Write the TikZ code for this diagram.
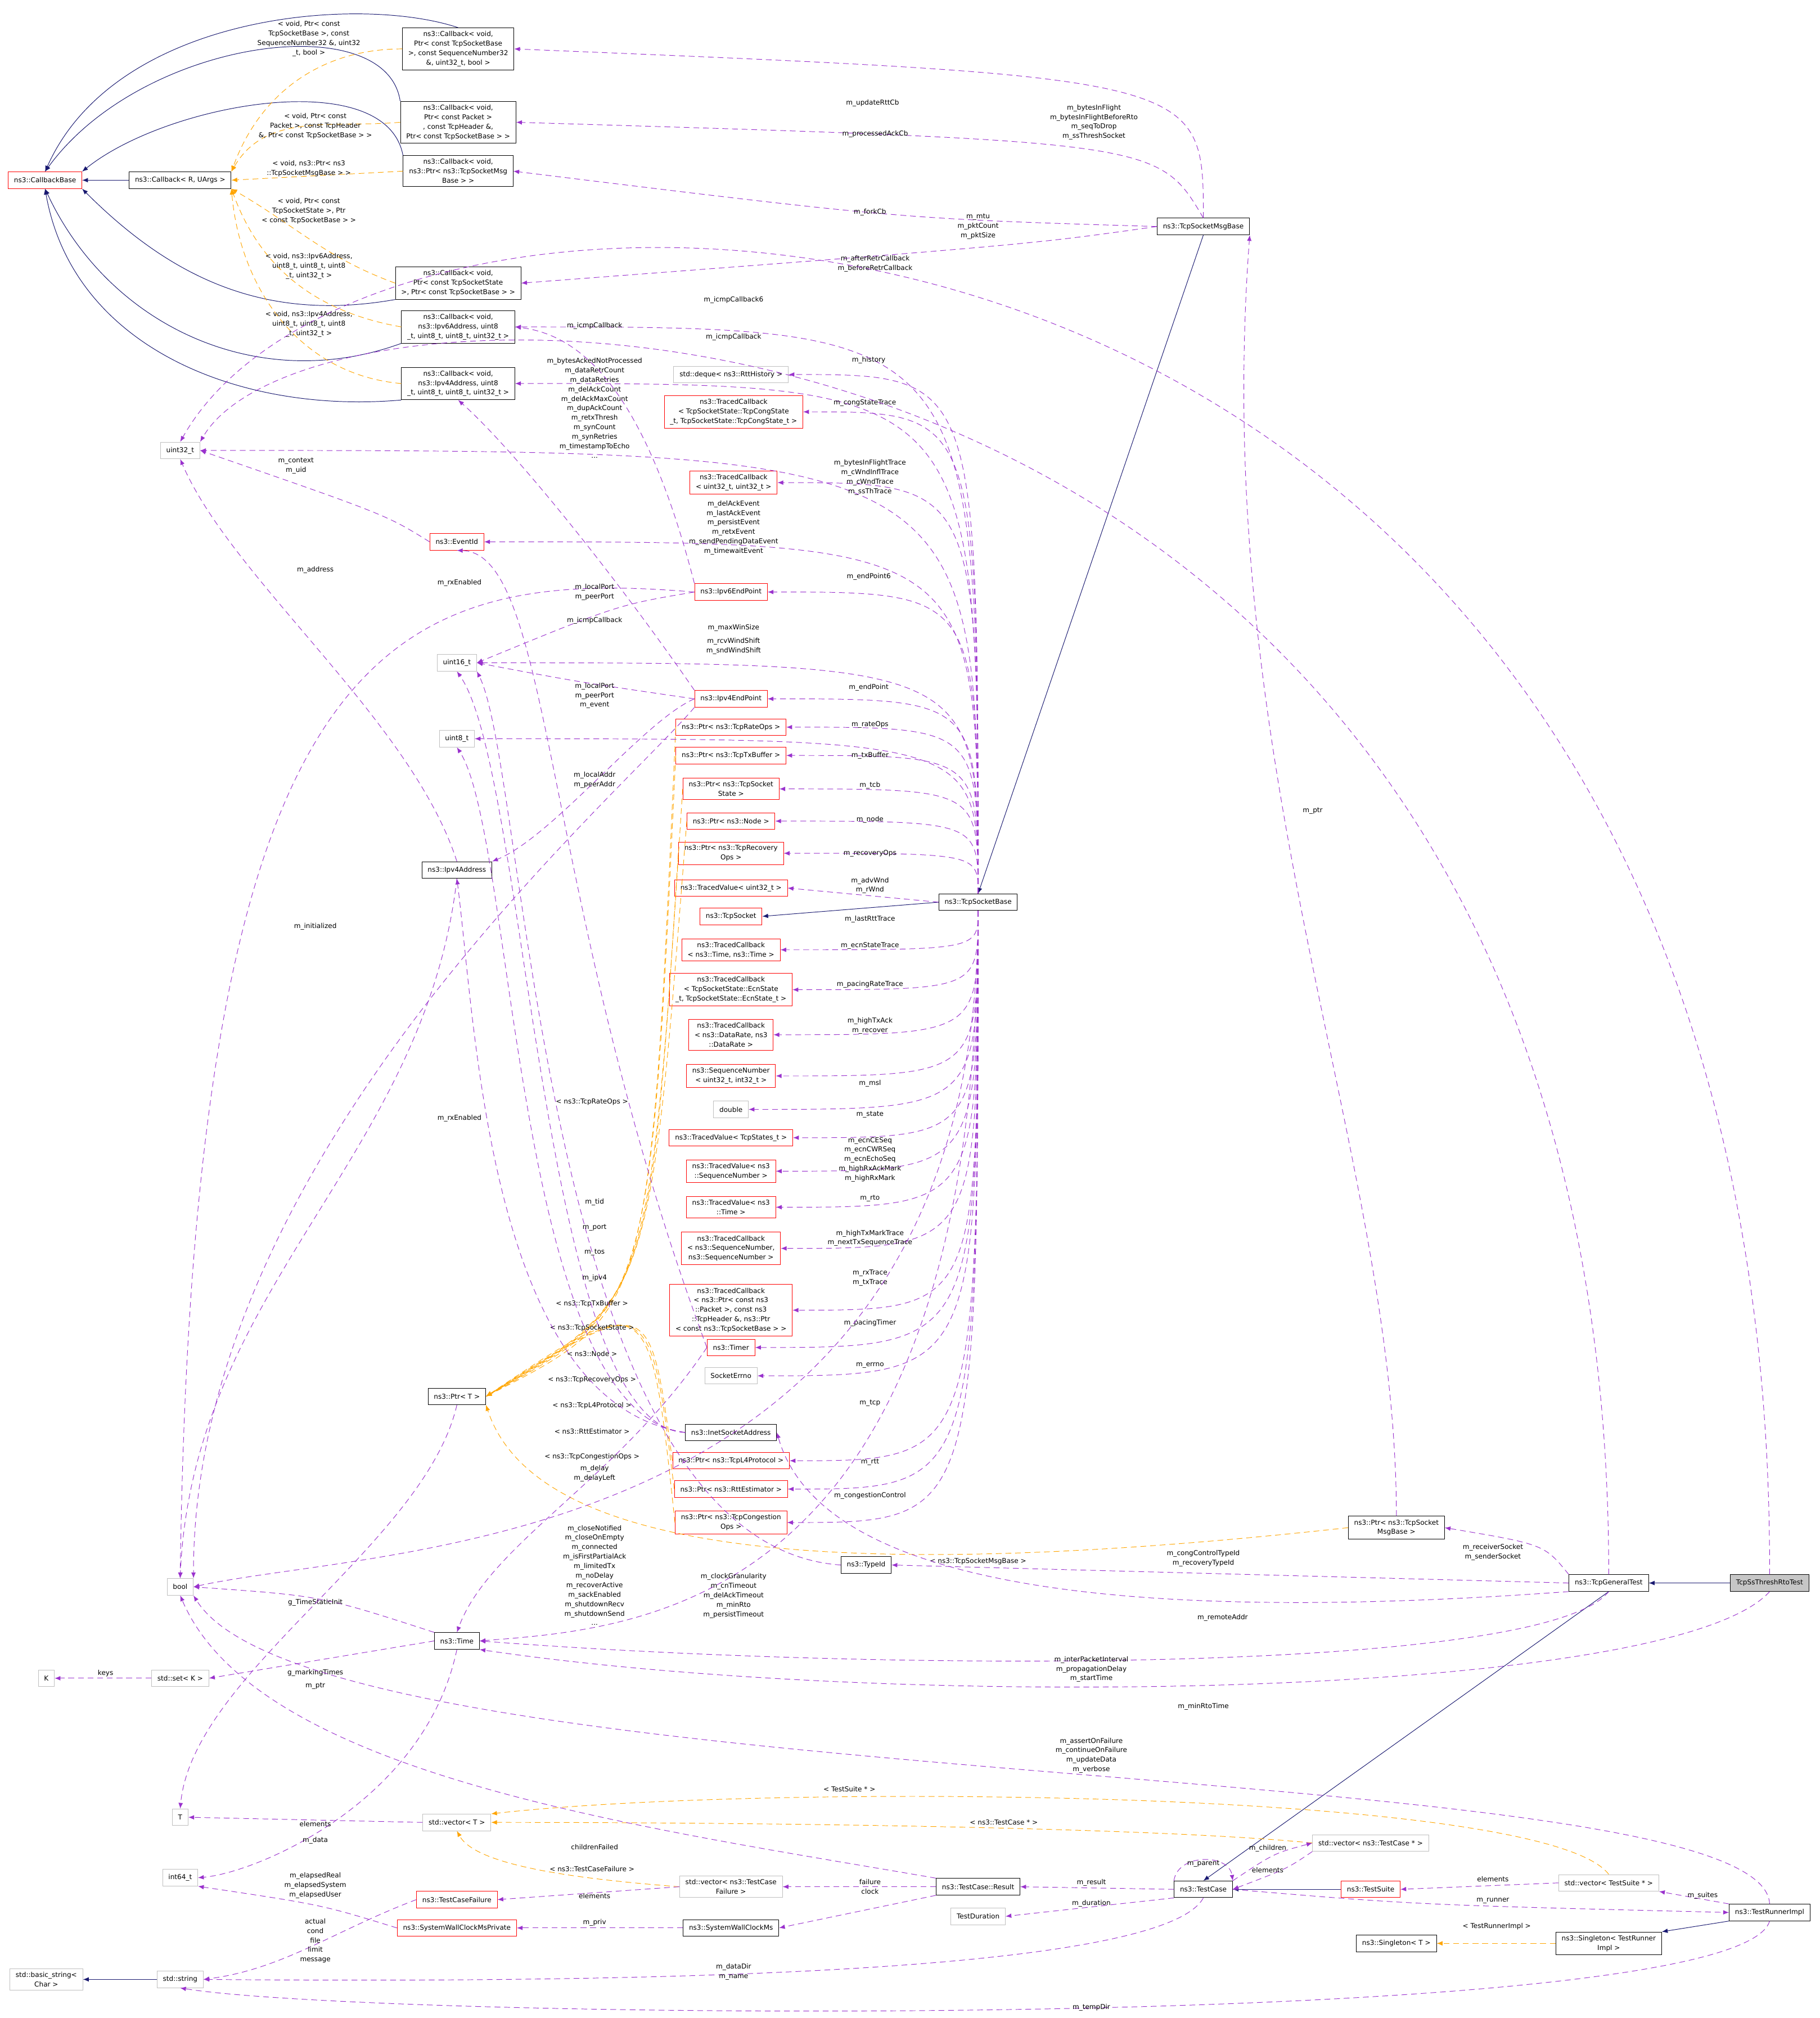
\documentclass[tikz,border=0pt]{standalone}
\usepackage{fontspec}
\setmainfont{DejaVu Sans}
\usetikzlibrary{arrows.meta,calc}
\definecolor{purp}{HTML}{9A32CD}
\definecolor{navy}{HTML}{191970}
\definecolor{orng}{HTML}{FFA500}
\definecolor{gbord}{HTML}{BFBFBF}
\tikzset{
 base/.style={draw, line width=1.2pt, font=\fontsize{15}{21}\selectfont, align=center, inner xsep=4.5mm, inner ysep=2.6mm, minimum height=12.9mm, fill=white},
 bbox/.style={base, draw=black},
 rbox/.style={base, draw=red},
 gbox/.style={base, draw=gbord},
 lbl/.style={font=\fontsize{15}{21}\selectfont, align=center, inner sep=0pt},
 mem/.style={draw=purp, line width=1.2pt, dash pattern=on 4.5mm off 3mm, -{Latex[length=4.5mm,width=3.5mm]}},
 tmpl/.style={draw=orng, line width=1.2pt, dash pattern=on 4.5mm off 3mm, -{Latex[length=4.5mm,width=3.5mm]}},
 inh/.style={draw=navy, line width=1.2pt, -{Latex[length=4.5mm,width=3.5mm]}},
}
\newcommand\fanup[1]{\draw[mem] (tsb.north) .. controls (tsb.north |- #1.east) .. (#1.east);}
\newcommand\fandn[1]{\draw[mem] (tsb.south) .. controls (tsb.south |- #1.east) .. (#1.east);}
\begin{document}
\begin{tikzpicture}[x=1mm,y=-1mm]
\useasboundingbox (0,0) rectangle (1414,1568);
% ---------- nodes
\node[rbox] (cbb) at (35,140) {ns3::CallbackBase};
\node[bbox] (cbr) at (140,140) {ns3::Callback\textless{} R, UArgs \textgreater};
\node[bbox] (cb1) at (356,38) {ns3::Callback\textless{} void,\\ Ptr\textless{} const TcpSocketBase\\ \textgreater, const SequenceNumber32\\ \&, uint32\_t, bool \textgreater};
\node[bbox] (cb2) at (356,95) {ns3::Callback\textless{} void,\\ Ptr\textless{} const Packet \textgreater\\ , const TcpHeader \&,\\ Ptr\textless{} const TcpSocketBase \textgreater{} \textgreater};
\node[bbox] (cb3) at (356,133) {ns3::Callback\textless{} void,\\ ns3::Ptr\textless{} ns3::TcpSocketMsg\\ Base \textgreater{} \textgreater};
\node[bbox] (cb4) at (356,220) {ns3::Callback\textless{} void,\\ Ptr\textless{} const TcpSocketState\\ \textgreater, Ptr\textless{} const TcpSocketBase \textgreater{} \textgreater};
\node[bbox] (cb5) at (356,254) {ns3::Callback\textless{} void,\\ ns3::Ipv6Address, uint8\\ \_t, uint8\_t, uint8\_t, uint32\_t \textgreater};
\node[bbox] (cb6) at (356,298) {ns3::Callback\textless{} void,\\ ns3::Ipv4Address, uint8\\ \_t, uint8\_t, uint8\_t, uint32\_t \textgreater};
\node[bbox] (tsmb) at (935,176) {ns3::TcpSocketMsgBase};
\node[gbox] (deque) at (568,291) {std::deque\textless{} ns3::RttHistory \textgreater};
\node[rbox] (tcCong) at (570,320) {ns3::TracedCallback\\\textless{} TcpSocketState::TcpCongState\\ \_t, TcpSocketState::TcpCongState\_t \textgreater};
\node[gbox] (u32) at (140,350) {uint32\_t};
\node[rbox] (tcU32) at (570,375) {ns3::TracedCallback\\\textless{} uint32\_t, uint32\_t \textgreater};
\node[rbox] (evt) at (355,421) {ns3::EventId};
\node[rbox] (ep6) at (568,460) {ns3::Ipv6EndPoint};
\node[gbox] (u16) at (355,515) {uint16\_t};
\node[rbox] (ep4) at (568,543) {ns3::Ipv4EndPoint};
\node[rbox] (pRate) at (568,565) {ns3::Ptr\textless{} ns3::TcpRateOps \textgreater};
\node[rbox] (pTx) at (568,587) {ns3::Ptr\textless{} ns3::TcpTxBuffer \textgreater};
\node[rbox] (pTcb) at (568,613) {ns3::Ptr\textless{} ns3::TcpSocket\\ State \textgreater};
\node[gbox] (u8) at (355,574) {uint8\_t};
\node[rbox] (pNode) at (568,638) {ns3::Ptr\textless{} ns3::Node \textgreater};
\node[rbox] (pRec) at (568,663) {ns3::Ptr\textless{} ns3::TcpRecovery\\ Ops \textgreater};
\node[bbox] (ipv4) at (355,676) {ns3::Ipv4Address};
\node[rbox] (tvU32) at (568,690) {ns3::TracedValue\textless{} uint32\_t \textgreater};
\node[rbox] (tcpsock) at (568,712) {ns3::TcpSocket};
\node[rbox] (tcTime) at (568,738) {ns3::TracedCallback\\\textless{} ns3::Time, ns3::Time \textgreater};
\node[rbox] (tcEcn) at (568,769) {ns3::TracedCallback\\\textless{} TcpSocketState::EcnState\\ \_t, TcpSocketState::EcnState\_t \textgreater};
\node[rbox] (tcRate) at (568,804) {ns3::TracedCallback\\\textless{} ns3::DataRate, ns3\\ ::DataRate \textgreater};
\node[rbox] (seqnum) at (568,836) {ns3::SequenceNumber\\\textless{} uint32\_t, int32\_t \textgreater};
\node[gbox] (dbl) at (568,862) {double};
\node[rbox] (tvStates) at (568,884) {ns3::TracedValue\textless{} TcpStates\_t \textgreater};
\node[rbox] (tvSeq) at (568,910) {ns3::TracedValue\textless{} ns3\\ ::SequenceNumber \textgreater};
\node[rbox] (tvTime) at (568,938) {ns3::TracedValue\textless{} ns3\\ ::Time \textgreater};
\node[rbox] (tcSeq) at (568,970) {ns3::TracedCallback\\\textless{} ns3::SequenceNumber,\\ ns3::SequenceNumber \textgreater};
\node[rbox] (tcPkt) at (568,1018) {ns3::TracedCallback\\\textless{} ns3::Ptr\textless{} const ns3\\ ::Packet \textgreater, const ns3\\ ::TcpHeader \&, ns3::Ptr\\\textless{} const ns3::TcpSocketBase \textgreater{} \textgreater};
\node[rbox] (timer) at (568,1047) {ns3::Timer};
\node[gbox] (errno) at (568,1069) {SocketErrno};
\node[bbox] (inet) at (568,1113) {ns3::InetSocketAddress};
\node[rbox] (pL4) at (568,1135) {ns3::Ptr\textless{} ns3::TcpL4Protocol \textgreater};
\node[rbox] (pRtt) at (568,1157) {ns3::Ptr\textless{} ns3::RttEstimator \textgreater};
\node[rbox] (pCong) at (568,1183) {ns3::Ptr\textless{} ns3::TcpCongestion\\ Ops \textgreater};
\node[bbox] (typeid) at (673,1216) {ns3::TypeId};
\node[bbox] (tsb) at (760,701) {ns3::TcpSocketBase};
\node[bbox] (ptrT) at (355,1085) {ns3::Ptr\textless{} T \textgreater};
\node[gbox] (bool) at (140,1233) {bool};
\node[bbox] (time) at (355,1275) {ns3::Time};
\node[gbox] (K) at (36,1304) {K};
\node[gbox] (set) at (140,1304) {std::set\textless{} K \textgreater};
\node[gbox] (T) at (140,1412) {T};
\node[gbox] (vecT) at (355,1416) {std::vector\textless{} T \textgreater};
\node[gbox] (i64) at (140,1459) {int64\_t};
\node[rbox] (tcf) at (355,1476) {ns3::TestCaseFailure};
\node[rbox] (swcp) at (355,1498) {ns3::SystemWallClockMsPrivate};
\node[gbox] (vecTCF) at (568,1466) {std::vector\textless{} ns3::TestCase\\ Failure \textgreater};
\node[bbox] (swc) at (568,1498) {ns3::SystemWallClockMs};
\node[bbox] (res) at (760,1466) {ns3::TestCase::Result};
\node[gbox] (tdur) at (760,1489) {TestDuration};
\node[bbox] (tc) at (935,1468) {ns3::TestCase};
\node[gbox] (vecTC) at (1065,1432) {std::vector\textless{} ns3::TestCase * \textgreater};
\node[rbox] (ts) at (1065,1468) {ns3::TestSuite};
\node[gbox] (vecTS) at (1250,1463) {std::vector\textless{} TestSuite * \textgreater};
\node[bbox] (singT) at (1085,1510) {ns3::Singleton\textless{} T \textgreater};
\node[bbox] (singR) at (1250,1510) {ns3::Singleton\textless{} TestRunner\\ Impl \textgreater};
\node[bbox] (tri) at (1375,1486) {ns3::TestRunnerImpl};
\node[gbox] (bstr) at (36,1538) {std::basic\_string\textless\\ Char \textgreater};
\node[gbox] (str) at (140,1538) {std::string};
\node[bbox] (pTSMB) at (1085,1187) {ns3::Ptr\textless{} ns3::TcpSocket\\ MsgBase \textgreater};
\node[bbox] (tgt) at (1250,1230) {ns3::TcpGeneralTest};
\node[bbox, fill=gray!45] (tsrt) at (1375,1230) {TcpSsThreshRtoTest};

% ---------- inheritance
\draw[inh] (cbr) -- (cbb);
\draw[inh] (cb1.north) .. controls (280,-4) and (90,10) .. (cbb.north);
\draw[inh] (cb2.north west) .. controls (300,5) and (110,30) .. (cbb.north);
\draw[inh] (cb3.north west) .. controls (300,50) and (130,80) .. (cbb.north east);
\draw[inh] (cb4.south west) to[out=190,in=-45] (cbb.south east);
\draw[inh] (cb5.south west) to[out=200,in=-65] (cbb.south);
\draw[inh] (cb6.south west) to[out=185,in=-80] (cbb.south);
\draw[inh] (tsb.west) -- (tcpsock.east);
\draw[inh] (tsmb.south) -- (tsb.north);
\draw[inh] (tsrt) -- (tgt);
\draw[inh] (tgt.south) -- (tc.north);
\draw[inh] (ts) -- (tc);
\draw[inh] (tri.south west) -- (singR.north east);
\draw[inh] (str) -- (bstr);

% ---------- templates
\draw[tmpl] (cb1.west) to[out=180,in=70] (cbr.north east);
\draw[tmpl] (cb2.west) to[out=185,in=60] (cbr.north east);
\draw[tmpl] (cb3.west) -- (cbr.east);
\draw[tmpl] (cb4.west) to[out=160,in=-30] (cbr.south east);
\draw[tmpl] (cb5.west) to[out=170,in=-70] (cbr.south east);
\draw[tmpl] (cb6.west) to[out=175,in=-85] (cbr.south east);
\node[lbl] at (240,30) {\textless{} void, Ptr\textless{} const\\TcpSocketBase \textgreater, const\\SequenceNumber32 \&, uint32\\\_t, bool \textgreater};
\node[lbl] at (245,98) {\textless{} void, Ptr\textless{} const\\Packet \textgreater, const TcpHeader\\\&, Ptr\textless{} const TcpSocketBase \textgreater{} \textgreater};
\node[lbl] at (240,131) {\textless{} void, ns3::Ptr\textless{} ns3\\::TcpSocketMsgBase \textgreater{} \textgreater};
\node[lbl] at (240,164) {\textless{} void, Ptr\textless{} const\\TcpSocketState \textgreater, Ptr\\\textless{} const TcpSocketBase \textgreater{} \textgreater};
\node[lbl] at (240,207) {\textless{} void, ns3::Ipv6Address,\\uint8\_t, uint8\_t, uint8\\\_t, uint32\_t \textgreater};
\node[lbl] at (240,252) {\textless{} void, ns3::Ipv4Address,\\uint8\_t, uint8\_t, uint8\\\_t, uint32\_t \textgreater};
\foreach \p/\a in {pRate/20, pTx/15, pTcb/12, pNode/10, pRec/8, pL4/5, pRtt/3, pCong/0}
  \draw[tmpl] (\p.west) .. controls (505,\a+1000) .. (ptrT.east);
\node[lbl] at (460,856) {\textless{} ns3::TcpRateOps \textgreater};
\node[lbl] at (460,1013) {\textless{} ns3::TcpTxBuffer \textgreater};
\node[lbl] at (460,1032) {\textless{} ns3::TcpSocketState \textgreater};
\node[lbl] at (460,1052) {\textless{} ns3::Node \textgreater};
\node[lbl] at (460,1072) {\textless{} ns3::TcpRecoveryOps \textgreater};
\node[lbl] at (460,1092) {\textless{} ns3::TcpL4Protocol \textgreater};
\node[lbl] at (460,1112) {\textless{} ns3::RttEstimator \textgreater};
\node[lbl] at (460,1132) {\textless{} ns3::TcpCongestionOps \textgreater};
\draw[tmpl] (pTSMB.west) .. controls (700,1225) and (420,1220) .. (ptrT.south east);
\node[lbl] at (760,1213) {\textless{} ns3::TcpSocketMsgBase \textgreater};
\draw[tmpl] (vecTS.north) .. controls (1200,1390) and (600,1385) .. (vecT.north east);
\node[lbl] at (660,1390) {\textless{} TestSuite * \textgreater};
\draw[tmpl] (vecTC.west) .. controls (900,1420) and (600,1416) .. (vecT.east);
\node[lbl] at (780,1416) {\textless{} ns3::TestCase * \textgreater};
\draw[tmpl] (vecTCF.west) .. controls (450,1460) and (370,1450) .. (vecT.south);
\node[lbl] at (460,1452) {\textless{} ns3::TestCaseFailure \textgreater};
\draw[tmpl] (singR.west) -- (singT.east);
\node[lbl] at (1163,1497) {\textless{} TestRunnerImpl \textgreater};

% ---------- members from TcpSocketMsgBase
\draw[mem] (tsmb.north) .. controls (935,60) .. (cb1.east);
\node[lbl] at (678,80) {m\_updateRttCb};
\draw[mem] (tsmb.north) .. controls (900,110) .. (cb2.east);
\node[lbl] at (680,104) {m\_processedAckCb};
\draw[mem] (tsmb.west) .. controls (700,170) .. (cb3.east);
\node[lbl] at (676,165) {m\_forkCb};
\draw[mem] (tsmb.west) .. controls (800,190) .. (cb4.east);
\node[lbl] at (680,205) {m\_afterRetrCallback\\m\_beforeRetrCallback};

% ---------- members from TcpSocketBase
\fanup{cb5}\node[lbl] at (570,233) {m\_icmpCallback6};
\fanup{cb6}\node[lbl] at (570,262) {m\_icmpCallback};
\fanup{deque}\node[lbl] at (675,280) {m\_history};
\fanup{tcCong}\node[lbl] at (672,313) {m\_congStateTrace};
\fanup{u32}\node[lbl] at (462,317) {m\_bytesAckedNotProcessed\\m\_dataRetrCount\\m\_dataRetries\\m\_delAckCount\\m\_delAckMaxCount\\m\_dupAckCount\\m\_retxThresh\\m\_synCount\\m\_synRetries\\m\_timestampToEcho\\...};
\fanup{tcU32}\node[lbl] at (676,371) {m\_bytesInFlightTrace\\m\_cWndInflTrace\\m\_cWndTrace\\m\_ssThTrace};
\fanup{evt}\node[lbl] at (570,410) {m\_delAckEvent\\m\_lastAckEvent\\m\_persistEvent\\m\_retxEvent\\m\_sendPendingDataEvent\\m\_timewaitEvent};
\fanup{ep6}\node[lbl] at (675,448) {m\_endPoint6};
\fanup{u16}\node[lbl] at (570,488) {m\_maxWinSize};
\fanup{u8}\node[lbl] at (570,502) {m\_rcvWindShift\\m\_sndWindShift};
\fanup{ep4}\node[lbl] at (675,534) {m\_endPoint};
\fanup{pRate}\node[lbl] at (676,563) {m\_rateOps};
\fanup{pTx}\node[lbl] at (676,587) {m\_txBuffer};
\fanup{pTcb}\node[lbl] at (676,610) {m\_tcb};
\fanup{pNode}\node[lbl] at (676,637) {m\_node};
\fanup{pRec}\node[lbl] at (676,663) {m\_recoveryOps};
\draw[mem] (tsb.west) -- (tvU32.east);\node[lbl] at (676,688) {m\_advWnd\\m\_rWnd};
\fandn{tcTime}\node[lbl] at (676,714) {m\_lastRttTrace};
\fandn{tcEcn}\node[lbl] at (676,735) {m\_ecnStateTrace};
\fandn{tcRate}\node[lbl] at (676,765) {m\_pacingRateTrace};
\fandn{seqnum}\node[lbl] at (676,797) {m\_highTxAck\\m\_recover};
\fandn{dbl}\node[lbl] at (676,842) {m\_msl};
\fandn{tvStates}\node[lbl] at (676,866) {m\_state};
\fandn{tvSeq}\node[lbl] at (676,901) {m\_ecnCESeq\\m\_ecnCWRSeq\\m\_ecnEchoSeq\\m\_highRxAckMark\\m\_highRxMark};
\fandn{tvTime}\node[lbl] at (676,931) {m\_rto};
\fandn{tcSeq}\node[lbl] at (676,962) {m\_highTxMarkTrace\\m\_nextTxSequenceTrace};
\fandn{tcPkt}\node[lbl] at (676,993) {m\_rxTrace\\m\_txTrace};
\fandn{timer}\node[lbl] at (676,1028) {m\_pacingTimer};
\fandn{errno}\node[lbl] at (676,1061) {m\_errno};
\fandn{pL4}\node[lbl] at (676,1090) {m\_tcp};
\fandn{pRtt}\node[lbl] at (676,1136) {m\_rtt};
\fandn{pCong}\node[lbl] at (676,1162) {m\_congestionControl};
\draw[mem] (tsb.south) .. controls (760,1210) and (300,1200) .. (bool.east);
\node[lbl] at (462,1224) {m\_closeNotified\\m\_closeOnEmpty\\m\_connected\\m\_isFirstPartialAck\\m\_limitedTx\\m\_noDelay\\m\_recoverActive\\m\_sackEnabled\\m\_shutdownRecv\\m\_shutdownSend\\...};
\draw[mem] (tsb.south) .. controls (760,1250) and (500,1265) .. (time.east);
\node[lbl] at (570,1240) {m\_clockGranularity\\m\_cnTimeout\\m\_delAckTimeout\\m\_minRto\\m\_persistTimeout};

% ---------- test classes
\draw[mem] (tsrt.north) .. controls (1378,90) and (300,60) .. (u32.north);
\node[lbl] at (850,95) {m\_bytesInFlight\\m\_bytesInFlightBeforeRto\\m\_seqToDrop\\m\_ssThreshSocket};
\draw[mem] (tgt.north) .. controls (1250,190) and (250,180) .. (u32.north east);
\node[lbl] at (760,176) {m\_mtu\\m\_pktCount\\m\_pktSize};
\draw[mem] (pTSMB.north) .. controls (1085,900) and (940,600) .. (tsmb.south east);
\node[lbl] at (1020,630) {m\_ptr};
\draw[mem] (tgt.north west) .. controls (1200,1200) .. (pTSMB.east);
\node[lbl] at (1160,1206) {m\_receiverSocket\\m\_senderSocket};
\draw[mem] (tgt.west) -- (typeid.east);
\node[lbl] at (935,1211) {m\_congControlTypeId\\m\_recoveryTypeId};
\draw[mem] (tgt.south west) .. controls (900,1260) and (640,1240) .. (inet.east);
\node[lbl] at (950,1257) {m\_remoteAddr};
\draw[mem] (tgt.south) .. controls (1200,1300) and (700,1300) .. (time.east);
\node[lbl] at (848,1297) {m\_interPacketInterval\\m\_propagationDelay\\m\_startTime};
\draw[mem] (tsrt.south) .. controls (1300,1320) and (700,1330) .. (time.south east);
\node[lbl] at (935,1326) {m\_minRtoTime};

% ---------- left side members
\draw[mem] (evt.west) .. controls (300,400) .. (u32.east);
\node[lbl] at (230,362) {m\_context\\m\_uid};
\draw[mem] (ipv4.north) .. controls (320,560) and (180,450) .. (u32.south);
\node[lbl] at (245,443) {m\_address};
\draw[mem] (ep6.west) .. controls (300,440) and (150,500) .. (bool.north);
\node[lbl] at (357,453) {m\_rxEnabled};
\draw[mem] (ep6.west) .. controls (480,470) .. (u16.east);
\node[lbl] at (462,460) {m\_localPort\\m\_peerPort};
\draw[mem] (ep6.north west) .. controls (500,300) and (450,260) .. (cb5.east);
\node[lbl] at (462,253) {m\_icmpCallback};
\draw[mem] (ep4.north west) .. controls (480,450) and (400,350) .. (cb6.south);
\node[lbl] at (462,482) {m\_icmpCallback};
\draw[mem] (ep4.west) .. controls (450,530) .. (u16.east);
\node[lbl] at (462,537) {m\_localPort\\m\_peerPort};
\draw[mem] (timer.west) .. controls (420,700) and (430,430) .. (evt.south);
\node[lbl] at (462,548) {m\_event};
\draw[mem] (ep4.west) .. controls (500,560) and (430,650) .. (ipv4.north east);
\node[lbl] at (462,606) {m\_localAddr\\m\_peerAddr};
\draw[mem] (ep4.south west) .. controls (480,620) and (150,900) .. (bool.north east);
\node[lbl] at (357,869) {m\_rxEnabled};
\draw[mem] (ipv4.south) .. controls (330,900) and (150,1000) .. (bool.north);
\node[lbl] at (245,720) {m\_initialized};
\draw[mem] (typeid.west) .. controls (420,1200) and (410,600) .. (u16.south east);
\node[lbl] at (462,934) {m\_tid};
\draw[mem] (inet.west) .. controls (420,1110) and (410,600) .. (u16.south);
\node[lbl] at (462,954) {m\_port};
\draw[mem] (inet.west) .. controls (400,1100) and (400,650) .. (u8.south);
\node[lbl] at (462,973) {m\_tos};
\draw[mem] (inet.west) .. controls (380,1090) and (370,800) .. (ipv4.south);
\node[lbl] at (462,993) {m\_ipv4};
\draw[mem] (timer.west) .. controls (480,1150) and (380,1200) .. (time.north);
\node[lbl] at (462,1145) {m\_delay\\m\_delayLeft};
\draw[mem] (time.north west) .. controls (250,1240) .. (bool.east);
\node[lbl] at (245,1245) {g\_TimeStaticInit};
\draw[mem] (time.west) -- (set.east);
\node[lbl] at (245,1300) {g\_markingTimes};
\draw[mem] (ptrT.south) .. controls (330,1200) and (150,1300) .. (T.north);
\node[lbl] at (245,1310) {m\_ptr};
\draw[mem] (set.west) -- (K.east);
\node[lbl] at (82,1300) {keys};
\draw[mem] (time.south) .. controls (330,1400) and (200,1455) .. (i64.east);
\node[lbl] at (245,1430) {m\_data};
\draw[mem] (vecT.west) -- (T.east);
\node[lbl] at (245,1417) {elements};
\draw[mem] (res.north west) .. controls (500,1420) and (200,1380) .. (bool.south);
\node[lbl] at (462,1435) {childrenFailed};
\draw[mem] (swcp.west) .. controls (250,1480) .. (i64.south east);
\node[lbl] at (245,1465) {m\_elapsedReal\\m\_elapsedSystem\\m\_elapsedUser};
\draw[mem] (tcf.west) .. controls (260,1500) and (220,1530) .. (str.east);
\node[lbl] at (245,1508) {actual\\cond\\file\\limit\\message};
\draw[mem] (vecTCF.west) -- (tcf.east);
\node[lbl] at (462,1473) {elements};
\draw[mem] (res.west) -- (vecTCF.east);
\draw[mem] (res.south west) -- (swc.east);
\node[lbl] at (676,1466) {failure\\clock};
\draw[mem] (swc.west) -- (swcp.east);
\node[lbl] at (462,1494) {m\_priv};
\draw[mem] (tc.west) -- (res.east);
\node[lbl] at (848,1463) {m\_result};
\draw[mem] (tc.south west) -- (tdur.east);
\node[lbl] at (848,1479) {m\_duration};
\draw[mem] (tc.south) .. controls (900,1540) and (400,1540) .. (str.east);
\node[lbl] at (570,1532) {m\_dataDir\\m\_name};
\draw[mem] (tc.north west) .. controls (915,1440) and (955,1440) .. (tc.north east);
\node[lbl] at (935,1448) {m\_parent};
\draw[mem] (tc.north east) .. controls (990,1440) .. (vecTC.west);
\node[lbl] at (985,1436) {m\_children};
\draw[mem] (vecTC.south west) .. controls (1000,1452) .. (tc.east);
\node[lbl] at (985,1453) {elements};
\draw[mem] (vecTS.west) -- (ts.east);
\node[lbl] at (1160,1460) {elements};
\draw[mem] (tri.north west) -- (vecTS.south east);
\node[lbl] at (1323,1473) {m\_suites};
\draw[mem] (tc.east) .. controls (1100,1480) .. (tri.west);
\node[lbl] at (1160,1477) {m\_runner};
\draw[mem] (tri.south) .. controls (1350,1580) and (300,1570) .. (str.south);
\node[lbl] at (848,1560) {m\_tempDir};
\draw[mem] (tri.north) .. controls (1370,1360) and (250,1400) .. (bool.south east);
\node[lbl] at (848,1364) {m\_assertOnFailure\\m\_continueOnFailure\\m\_updateData\\m\_verbose};
\end{tikzpicture}
\end{document}
